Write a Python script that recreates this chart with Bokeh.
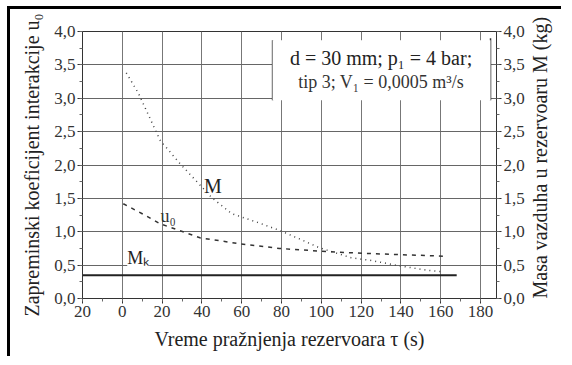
import math
from bokeh.plotting import figure
from bokeh.models import (Range1d, LinearAxis, FixedTicker, CustomJSTickFormatter,
                          Label, BoxAnnotation, Grid)
from bokeh.embed import file_html
from bokeh.resources import INLINE

# ---- data ----
tau_M = [2, 8, 19, 29, 45, 55, 68, 79, 90, 99, 115, 125, 139, 154, 161]
M_kg = [3.38, 3.08, 2.37, 2.02, 1.51, 1.27, 1.14, 1.02, 0.88, 0.76, 0.61, 0.57, 0.49, 0.42, 0.40]

tau_u = [0.5, 10, 19, 39, 59, 79, 89, 104, 127, 156, 162]
u0 = [1.42, 1.27, 1.12, 0.91, 0.82, 0.75, 0.73, 0.70, 0.67, 0.64, 0.63]

tau_Mk = [-20, 168]
Mk = [0.35, 0.35]

x_ticks = [-20, 0, 20, 40, 60, 80, 100, 120, 140, 160, 180]
y_ticks = [0.0, 0.5, 1.0, 1.5, 2.0, 2.5, 3.0, 3.5, 4.0]

FONT = "Liberation Serif"

p = figure(width=554, height=350, output_backend="svg", toolbar_location=None,
           x_range=Range1d(-20, 188), y_range=Range1d(0, 4),
           min_border_left=72, min_border_right=66, min_border_top=22,
           min_border_bottom=61, y_axis_location=None)
p.styles = {"margin-left": "7px", "margin-top": "6px",
            "border-top": "3px solid black", "border-left": "3px solid black"}
p.outline_line_color = "#333333"
p.background_fill_color = "white"
p.border_fill_color = "white"

yfmt = CustomJSTickFormatter(code="return tick.toFixed(1).replace('.', ',');")
xfmt = CustomJSTickFormatter(code="return Math.abs(tick).toString();")

left = LinearAxis(axis_label="Zapreminski koeficijent interakcije u₀")
right = LinearAxis(axis_label="Masa vazduha u rezervoaru M (kg)")
p.add_layout(left, "left")
p.add_layout(right, "right")

for ax in (left, right):
    ax.ticker = FixedTicker(ticks=y_ticks, minor_ticks=[i * 0.25 for i in range(17)])
    ax.formatter = yfmt

xa = p.xaxis[0]
xa.ticker = FixedTicker(ticks=x_ticks, minor_ticks=list(range(-20, 190, 10)))
xa.formatter = xfmt
xa.axis_label = "Vreme pražnjenja rezervoara τ (s)"

for ax in (left, right, xa):
    ax.major_label_text_font = FONT
    ax.major_label_text_font_size = "17px"
    ax.major_label_text_color = "#333333"
    ax.axis_label_text_font = FONT
    ax.axis_label_text_font_size = "20px"
    ax.axis_label_text_font_style = "normal"
    ax.axis_label_text_color = "#222222"
    ax.axis_line_color = "#333333"
    ax.major_tick_line_color = "#333333"
    ax.minor_tick_line_color = "#666666"
    ax.major_tick_out = 5
    ax.major_tick_in = 0
    ax.minor_tick_out = 3
    ax.minor_tick_in = 0
    ax.major_label_standoff = 2
left.axis_label_standoff = 8
right.axis_label_standoff = 12
xa.axis_label_standoff = 8

# right title reads bottom-to-top, as in the reference
try:
    right.axis_label_orientation = math.pi / 2
except Exception as e:
    print("orientation not supported:", e)
try:
    right.axis_label_align = "start"
except Exception as e:
    print("align not supported:", e)

p.xgrid.ticker = FixedTicker(ticks=x_ticks)
p.xgrid.grid_line_color = "#777777"
p.xgrid.grid_line_width = 1
p.add_layout(Grid(dimension=1, ticker=FixedTicker(ticks=y_ticks),
                  grid_line_color="#666666", grid_line_width=1))

# curves
p.line(tau_M, M_kg, line_color="#444444", line_width=1.5, line_dash="1 4")
p.line(tau_u, u0, line_color="#333333", line_width=1.5, line_dash="4 5")
p.line(tau_Mk, Mk, line_color="#222222", line_width=2)

# info box
p.add_layout(BoxAnnotation(left=75.5, right=185, bottom=2.97, top=3.87,
                           fill_color="white", fill_alpha=1, line_color=None))
p.segment(x0=[75.5, 185], y0=[2.97, 2.97], x1=[75.5, 185], y1=[3.87, 3.9],
          line_color="#333333", line_width=1.5)
p.add_layout(Label(x=130, y=3.6, text="d = 30 mm; p₁ = 4 bar;", text_align="center",
                   text_baseline="middle", text_font=FONT, text_font_size="20px",
                   text_color="#222222"))
p.add_layout(Label(x=130, y=3.25, text="tip 3; V₁ = 0,0005 m³/s", text_align="center",
                   text_baseline="middle", text_font=FONT, text_font_size="18px",
                   text_color="#333333"))

# curve labels
p.add_layout(Label(x=45.5, y=1.69, text="M", text_align="center", text_baseline="middle",
                   text_font=FONT, text_font_size="20px", text_color="#222222"))
p.add_layout(Label(x=23, y=1.24, text="u₀", text_align="center", text_baseline="middle",
                   text_font=FONT, text_font_size="18px", text_color="#333333"))
p.add_layout(Label(x=8, y=0.6, text="Mₖ", text_align="center", text_baseline="middle",
                   text_font=FONT, text_font_size="18px", text_color="#222222",
                   background_fill_color="white", background_fill_alpha=1))

open("out.html", "w").write(file_html(p, INLINE))
